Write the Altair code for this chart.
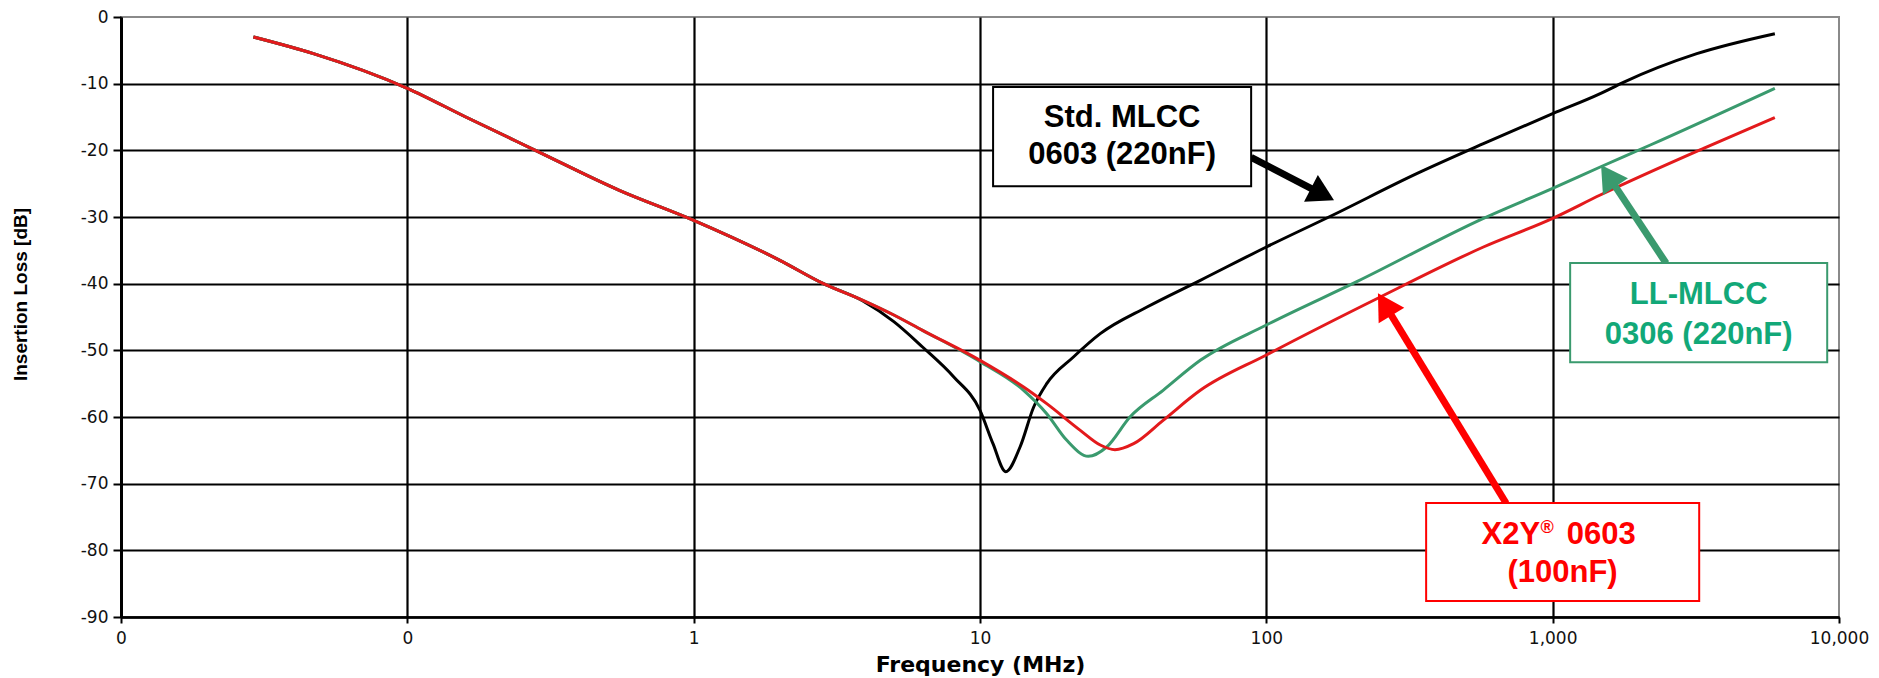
import altair as alt
import pandas as pd

# ---------------- data (MHz, dB) ----------------
std_freq = [0.029, 0.047, 0.1, 0.16, 0.28, 0.55, 1.0, 2.0, 2.84, 3.9,
            5.0, 6.3, 8.1, 10.0, 11.1, 12.3, 13.8, 15.4, 17.1, 21.2,
            26.3, 38.3, 58.8, 100, 171, 335, 573, 1000, 1466, 1766,
            3187, 5970]
std_db = [-3.0, -5.5, -10.7, -15.0, -20.0, -26.0, -30.5, -36.5, -40.0, -42.6,
          -45.7, -49.5, -54.0, -59.0, -64.0, -68.2, -64.5, -58.5, -55.0, -51.0,
          -47.5, -43.5, -39.5, -34.5, -29.7, -23.5, -19.0, -14.5, -11.5, -9.8,
          -5.5, -2.5]

ll_freq = [0.029, 0.047, 0.1, 0.16, 0.28, 0.55, 1.0, 2.0, 2.84, 3.9,
           5.0, 6.3, 10.0, 14.2, 17.1, 20.1, 23.9, 27.7, 33.4, 43.6,
           58.8, 100, 207, 573, 1000, 1466, 2193, 5970]
ll_db = [-3.0, -5.5, -10.7, -15.0, -20.0, -26.0, -30.5, -36.5, -40.0, -42.5,
         -44.7, -47.0, -51.7, -56.0, -59.5, -63.5, -65.9, -64.5, -60.0, -56.0,
         -51.5, -46.2, -39.7, -30.2, -25.7, -22.5, -19.2, -10.7]

x2y_freq = [0.029, 0.047, 0.1, 0.16, 0.28, 0.55, 1.0, 2.0, 2.84, 3.9,
            5.0, 6.3, 10.0, 14.2, 17.1, 22.4, 26.3, 29.6, 34.4, 43.6,
            58.8, 100, 250, 573, 1000, 1466, 3365, 5970]
x2y_db = [-3.0, -5.5, -10.7, -15.0, -20.0, -26.0, -30.5, -36.5, -40.0, -42.5,
          -44.7, -47.0, -51.5, -55.5, -58.0, -62.0, -64.2, -64.9, -64.0, -60.5,
          -56.0, -50.7, -42.0, -34.5, -30.2, -26.7, -19.7, -15.1]

x_ticks = [0.01, 0.1, 1, 10, 100, 1000, 10000]
y_ticks = [-90, -80, -70, -60, -50, -40, -30, -20, -10, 0]

# annotation anchors (data coordinates)
box_f1 = [11.11, 1151, 361.5]
box_f2 = [88.5, 9095, 3249]
box_d1 = [-10.5, -36.9, -72.9]
box_d2 = [-25.4, -51.8, -87.6]

arrow_f1 = [88.5, 2491, 688]
arrow_d1 = [-21.05, -36.94, -72.94]
arrow_f2 = [152.3, 1594, 263.8]
arrow_d2 = [-26.3, -24.36, -43.66]
arrow_angle = [117.4, 326.4, 328.6]

BLACK = "#000000"
GREEN_LINE = "#3a9a6e"
GREEN_TEXT = "#12a878"
RED_LINE = "#e31a1c"
RED = "#ff0000"

box_stroke = [BLACK, GREEN_LINE, RED]
arrow_color = [BLACK, GREEN_LINE, RED]

# ---------------- scales & axes ----------------
x_scale = alt.Scale(type="log", domain=[0.01, 10000], nice=False)
y_scale = alt.Scale(domain=[-90, 0], nice=False, zero=False)

x_axis = alt.Axis(
    values=x_ticks, labelExpr="format(datum.value, ',.0f')",
    title="Frequency (MHz)", titleFont="DejaVu Sans", titleFontSize=22,
    titleFontWeight="bold", titleColor="#000", titleBaseline="middle", titleY=47,
    labelFont="DejaVu Sans", labelFontSize=17, labelColor="#111",
    labelPadding=7, labelFlush=False, labelOverlap=False,
    tickSize=6, tickColor="#000", tickWidth=2,
    domainColor="#000", domainWidth=2.5,
    grid=True, gridColor="#000", gridWidth=2.2,
    gridOpacity={"condition": {"test": "datum.value >= 10000", "value": 0}, "value": 1},
)
y_axis = alt.Axis(
    values=y_ticks, labelExpr="'' + datum.value",
    title="Insertion Loss [dB]",
    titleFont="Liberation Sans",
    titleFontSize=19, titleFontWeight="bold", titleColor="#000",
    titleAngle=270, titleX=-101, titleY=277, titleAlign="center", titleBaseline="middle",
    labelFont="DejaVu Sans", labelFontSize=17, labelColor="#111", labelPadding=5,
    tickSize=8, tickColor="#000", tickWidth=2,
    domainColor="#000", domainWidth=3,
    grid=True, gridColor="#000", gridWidth=2,
    gridOpacity={"condition": {"test": "datum.value >= 0", "value": 0}, "value": 1},
)

X = alt.X("freq:Q", scale=x_scale, axis=x_axis)
Y = alt.Y("db:Q", scale=y_scale, axis=y_axis)


def line_layer(freq, db, color):
    df = pd.DataFrame({"freq": freq, "db": db})
    return alt.Chart(df).mark_line(color=color, strokeWidth=3, clip=True,
                                   interpolate="monotone").encode(x=X, y=Y)


layers = [
    line_layer(std_freq, std_db, BLACK),
    line_layer(ll_freq, ll_db, GREEN_LINE),
    line_layer(x2y_freq, x2y_db, RED_LINE),
]

# arrows: shafts
for i in range(3):
    df = pd.DataFrame({"freq": [arrow_f1[i]], "db": [arrow_d1[i]],
                       "freq2": [arrow_f2[i]], "db2": [arrow_d2[i]]})
    layers.append(alt.Chart(df).mark_rule(color=arrow_color[i], strokeWidth=7).encode(
        x=X, y=Y, x2="freq2:Q", y2="db2:Q"))

# boxes
for i in range(3):
    df = pd.DataFrame({"freq": [box_f1[i]], "db": [box_d1[i]],
                       "freq2": [box_f2[i]], "db2": [box_d2[i]]})
    layers.append(alt.Chart(df).mark_rect(fill="white", stroke=box_stroke[i], strokeWidth=2).encode(
        x=X, y=Y, x2="freq2:Q", y2="db2:Q"))

# box texts
def text_layer(labels, freqs, dbs, color, size=31, align="center"):
    df = pd.DataFrame({"label": labels, "freq": freqs, "db": dbs})
    return alt.Chart(df).mark_text(
        font="Liberation Sans", fontSize=size, fontWeight="bold", color=color,
        align=align, baseline="middle").encode(x=X, y=Y, text="label:N")

layers.append(text_layer(["Std. MLCC", "0603 (220nF)"], [31.35, 31.35], [-15.2, -20.75], BLACK))
layers.append(text_layer(["LL-MLCC", "0306 (220nF)"], [3235, 3235], [-41.75, -47.75], GREEN_TEXT))
layers.append(text_layer(["X2Y"], [904], [-77.75], RED, align="right"))
layers.append(text_layer(["®"], [906], [-76.6], RED, size=18, align="left"))
layers.append(text_layer(["0603"], [1120], [-77.75], RED, align="left"))
layers.append(text_layer(["(100nF)"], [1083], [-83.45], RED))

# arrow heads
for i in range(3):
    df = pd.DataFrame({"freq": [arrow_f2[i]], "db": [arrow_d2[i]]})
    layers.append(alt.Chart(df).mark_point(
        shape="triangle", filled=True, size=900, angle=arrow_angle[i],
        color=arrow_color[i], opacity=1, strokeWidth=0).encode(x=X, y=Y))

chart = alt.layer(*layers).properties(
    width=1718, height=600,
    padding={"left": 121, "top": 17, "right": 40, "bottom": 61},
    autosize=alt.AutoSizeParams(type="none"),
    background="white",
).configure_view(stroke="#8a8a8a", strokeWidth=2)

chart.save("out.html", embed_options={"renderer": "svg", "actions": False})
